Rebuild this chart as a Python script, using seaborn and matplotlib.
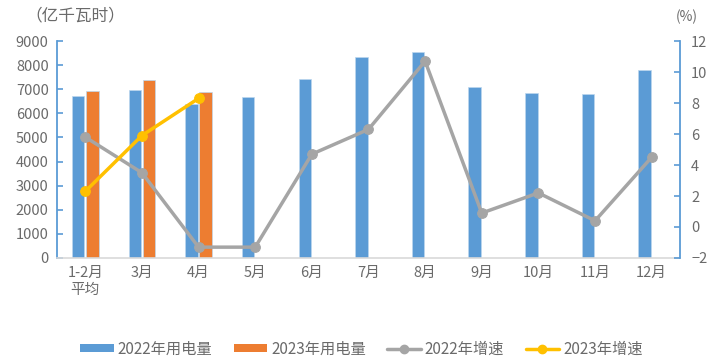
import matplotlib
matplotlib.use("Agg")
import matplotlib.pyplot as plt
import seaborn as sns
import pandas as pd
import numpy as np
from matplotlib.lines import Line2D
from matplotlib.patches import Patch

# Monthly electricity consumption (100 million kWh) and year-on-year growth (%)
months = ["1-2月\n平均", "3月", "4月", "5月", "6月", "7月", "8月", "9月", "10月", "11月", "12月"]
use_2022 = [6730, 6955, 6375, 6690, 7440, 8340, 8530, 7080, 6830, 6800, 7785]
use_2023 = [6925, 7370, 6900]
growth_2022 = [5.8, 3.5, -1.3, -1.3, 4.7, 6.3, 10.7, 0.9, 2.2, 0.4, 4.5]
growth_2023 = [2.3, 5.9, 8.3]

sns.set_theme(style="white")
plt.rcParams["font.family"] = ["Noto Sans CJK SC", "DejaVu Sans"]

BLUE = "#5B9BD5"
ORANGE = "#ED7D31"
GRAY = "#A5A5A5"
GOLD = "#FFC000"
TXT = "#6A6A6A"

bars = pd.DataFrame({
    "month": months + months[:len(use_2023)],
    "value": use_2022 + use_2023,
    "series": ["2022年用电量"] * len(use_2022) + ["2023年用电量"] * len(use_2023),
})

fig = plt.figure(figsize=(7.23, 3.62), dpi=100)
ax = fig.add_axes([0.0788, 0.2873, 0.8617, 0.5994])

sns.barplot(data=bars, x="month", y="value", hue="series", order=months,
            palette=[BLUE, ORANGE], saturation=1, width=0.5, gap=0.12, ax=ax,
            edgecolor="#BDD7EE", linewidth=0.5, legend=False)

ax.set_xlim(-0.5, len(months) - 0.5)
ax.set_ylim(0, 9000)
ax.set_yticks(np.arange(0, 9001, 1000))
ax.set_xlabel("")
ax.set_ylabel("")

ax2 = ax.twinx()
x = np.arange(len(months))
sns.lineplot(x=x, y=growth_2022, ax=ax2, color=GRAY, lw=2.5, marker="o",
             markersize=7, markeredgecolor=GRAY, zorder=3)
sns.lineplot(x=x[:len(growth_2023)], y=growth_2023, ax=ax2, color=GOLD, lw=2.5,
             marker="o", markersize=7, markeredgecolor=GOLD, zorder=4)
ax2.set_ylim(-2, 12)
ax2.set_yticks(np.arange(-2, 13, 2))
ax2.set_xlim(-0.5, len(months) - 0.5)

for a in (ax, ax2):
    for s in a.spines.values():
        s.set_visible(False)
ax.spines["left"].set_visible(True)
ax.spines["left"].set_color(BLUE)
ax.spines["left"].set_linewidth(1.3)
ax.spines["bottom"].set_visible(True)
ax.spines["bottom"].set_color("#D9D9D9")
ax.spines["bottom"].set_linewidth(1.2)
ax2.spines["right"].set_visible(True)
ax2.spines["right"].set_color(BLUE)
ax2.spines["right"].set_linewidth(1.3)

ax.tick_params(axis="y", direction="in", length=4, width=1.2, color=BLUE,
               labelsize=10.5, labelcolor=TXT, pad=6, left=True)
ax.tick_params(axis="x", length=0, labelsize=10.5, labelcolor=TXT, pad=6)
ax2.tick_params(axis="y", direction="in", length=4, width=1.2, color=BLUE,
                labelsize=10.5, labelcolor=TXT, pad=8, right=True)

fig.text(0.035, 0.957, "（亿千瓦时）", fontsize=12, color=TXT, ha="left", va="center")
fig.text(0.935, 0.953, "(%)", fontsize=10, color=TXT, ha="left", va="center")

handles = [
    Patch(facecolor=BLUE, edgecolor="none"),
    Patch(facecolor=ORANGE, edgecolor="none"),
    Line2D([], [], color=GRAY, lw=2.5, marker="o", markersize=6),
    Line2D([], [], color=GOLD, lw=2.5, marker="o", markersize=6),
]
labels = ["2022年用电量", "2023年用电量", "2022年增速", "2023年增速"]
fig.legend(handles, labels, loc="center", bbox_to_anchor=(0.5, 0.035), ncol=4,
           frameon=False, fontsize=11, labelcolor=TXT, handlelength=2.2,
           handleheight=0.45, columnspacing=1.4, handletextpad=0.25)

fig.savefig("out.png", dpi=100)
